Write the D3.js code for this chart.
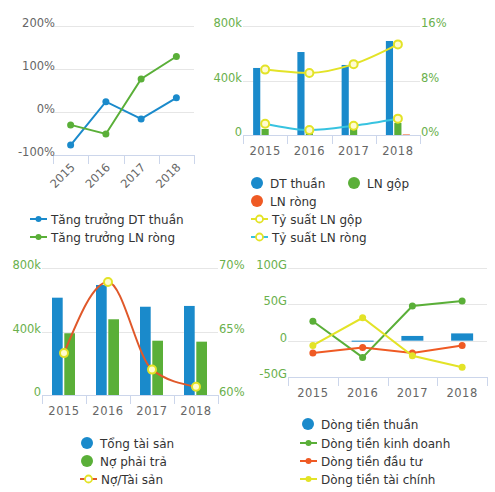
<!DOCTYPE html>
<html><head><meta charset="utf-8">
<script src="https://cdn.jsdelivr.net/npm/d3@7"></script>
<style>
html,body{margin:0;padding:0;background:#fff;}
svg{display:block;font-family:"DejaVu Sans",Verdana,sans-serif;}
</style></head>
<body><svg id="c" width="495" height="492"></svg>
<script>
// ---------- DATA ----------
const years = ["2015","2016","2017","2018"];
// Chart 1: growth (%)
const growthDT = [-77, 24, -16, 33];
const growthLN = [-30, -51, 77, 129];
const growthTicks = [-100, 0, 100, 200];
// Chart 2: revenue / profit (k) and margins (%)
const dtThuan = [492, 609, 514, 690];
const lnGop = [44, 22, 51, 88];
const lnRong = [0, 0, 0, 4];
const tsLNGop = [9.6, 9.1, 10.4, 13.3];
const tsLNRong = [1.66, 0.73, 1.37, 2.4];
const c2LeftTicks = [0, 400, 800];
const c2RightTicks = [0, 8, 16];
// Chart 3: assets / liabilities (k) and ratio (%)
const tongTaiSan = [613, 693, 556, 561];
const noPhaiTra = [389, 477, 342, 336];
const noTaiSan = [63.3, 68.9, 62.0, 60.65];
const c3LeftTicks = [0, 400, 800];
const c3RightTicks = [60, 65, 70];
// Chart 4: cash flows (G)
const dongTienThuan = [0, -1, 6.5, 10];
const dtKinhDoanh = [26.8, -23, 47.6, 54.6];
const dtDauTu = [-17, -9.3, -17, -6.5];
const dtTaiChinh = [-6.5, 31.5, -20.8, -36.6];
const c4Ticks = [-50, 0, 50, 100];

// ---------- STYLE ----------
const BLUE="#1a8acb", GREEN="#5aaf38", ORANGE="#ef5a24", YELLOW="#e3e327", CYAN="#37c3e0";
const GRID="#e6e6e6", AXIS="#ccd6eb", LBL="#666", LGRN="#6ab04c", TXT="#333";
const svg = d3.select("#c");

function grid(g, y, ticks, x0, x1){
  g.selectAll(null).data(ticks).join("line")
   .attr("x1",x0).attr("x2",x1).attr("y1",d=>Math.round(y(d))+0.5).attr("y2",d=>Math.round(y(d))+0.5)
   .attr("stroke",GRID).attr("stroke-width",1);
}
function xAxisBand(g, x, yPos, rotate){
  g.append("line").attr("x1",x.range()[0]).attr("x2",x.range()[1])
   .attr("y1",yPos+0.5).attr("y2",yPos+0.5).attr("stroke",AXIS);
  const bounds = x.domain().map(d=>x(d)).concat([x.range()[1]]);
  g.selectAll(null).data(bounds).join("line")
   .attr("x1",d=>Math.round(d)+0.5).attr("x2",d=>Math.round(d)+0.5)
   .attr("y1",yPos).attr("y2",yPos+9).attr("stroke",AXIS);
  if(rotate){
    g.selectAll(null).data(x.domain()).join("text")
     .attr("transform",d=>`translate(${x(d)+x.bandwidth()/2+5},${yPos+13}) rotate(-45)`)
     .attr("text-anchor","end").attr("fill",LBL).attr("font-size",11.5).text(d=>d);
  } else {
    g.selectAll(null).data(x.domain()).join("text")
     .attr("x",d=>x(d)+x.bandwidth()/2).attr("y",yPos+20)
     .attr("text-anchor","middle").attr("fill",LBL).attr("font-size",11.5)
     .attr("letter-spacing",0.5).text(d=>d);
  }
}
function yLabels(g, y, ticks, xPos, anchor, color, fmt){
  g.selectAll(null).data(ticks).join("text")
   .attr("x",xPos).attr("y",d=>y(d)+1).attr("text-anchor",anchor)
   .attr("fill",color).attr("font-size",11.5).text(fmt);
}
function legendCircle(g, x, y, color, label){
  g.append("circle").attr("cx",x).attr("cy",y).attr("r",6).attr("fill",color);
  g.append("text").attr("x",x+13).attr("y",y+4.5).attr("fill",TXT).attr("font-size",12).text(label);
}
function legendLine(g, x, y, color, label, hollow, mcolor){
  g.append("line").attr("x1",x).attr("x2",x+17).attr("y1",y).attr("y2",y).attr("stroke",color).attr("stroke-width",2);
  if(hollow) g.append("circle").attr("cx",x+8.5).attr("cy",y).attr("r",3.5).attr("fill","#fff").attr("stroke",mcolor).attr("stroke-width",1.8);
  else g.append("circle").attr("cx",x+8.5).attr("cy",y).attr("r",3).attr("fill",color);
  g.append("text").attr("x",x+21).attr("y",y+4.5).attr("fill",TXT).attr("font-size",12).text(label);
}
function lineSeries(g, x, y, vals, color, opts={}){
  const pts = vals.map((v,i)=>[x(years[i])+x.bandwidth()/2, y(v)]);
  g.append("path").attr("d",d3.line().curve(opts.curve||d3.curveLinear)(pts))
   .attr("fill","none").attr("stroke",color).attr("stroke-width",2);
  g.selectAll(null).data(pts).join("circle").attr("cx",d=>d[0]).attr("cy",d=>d[1])
   .attr("r",opts.hollow?4:3.5)
   .attr("fill",opts.hollow?"#fffbd0":color)
   .attr("stroke",opts.hollow?opts.mcolor:"none").attr("stroke-width",opts.hollow?2:0);
}

// ---------- CHART 1 ----------
{
  const g = svg.append("g");
  const x = d3.scaleBand().domain(years).range([53,194]);
  const y = d3.scaleLinear().domain([-100,200]).range([155,26]);
  grid(g,y,growthTicks.filter(d=>d!==-100),53,194);
  xAxisBand(g,x,155,true);
  yLabels(g,y,growthTicks,55,"end",LBL,d=>d+"%");
  lineSeries(g,x,y,growthDT,BLUE);
  lineSeries(g,x,y,growthLN,GREEN);
  legendLine(g,30,219,BLUE,"Tăng trưởng DT thuần");
  legendLine(g,30,237,GREEN,"Tăng trưởng LN ròng");
}
// ---------- CHART 2 ----------
{
  const g = svg.append("g");
  const x = d3.scaleBand().domain(years).range([243,420]);
  const y = d3.scaleLinear().domain([0,800]).range([135,26]);
  const y2 = d3.scaleLinear().domain([0,16]).range([135,26]);
  grid(g,y,c2LeftTicks.filter(d=>d!==0),243,420);
  xAxisBand(g,x,135,false);
  yLabels(g,y,c2LeftTicks,242,"end",LGRN,d=>d===0?"0":d+"k");
  yLabels(g,y2,c2RightTicks,421,"start",LGRN,d=>d+"%");
  const series = [["dt",dtThuan,BLUE],["gop",lnGop,GREEN],["rong",lnRong,ORANGE]];
  const x1 = d3.scaleBand().domain(series.map(s=>s[0])).range([0,24]).paddingInner(0.15);
  series.forEach(([k,vals,col])=>{
    g.selectAll(null).data(vals).join("rect")
     .attr("x",(d,i)=>x(years[i])+x.bandwidth()/2-12+x1(k)).attr("width",x1.bandwidth())
     .attr("y",d=>y(Math.max(0,d))).attr("height",d=>Math.abs(y(d)-y(0)))
     .attr("fill",col);
  });
  lineSeries(g,x,y2,tsLNGop,YELLOW,{hollow:true,mcolor:YELLOW,curve:d3.curveMonotoneX});
  lineSeries(g,x,y2,tsLNRong,CYAN,{hollow:true,mcolor:YELLOW,curve:d3.curveMonotoneX});
  legendCircle(g,257,183,BLUE,"DT thuần");
  legendCircle(g,354,183,GREEN,"LN gộp");
  legendCircle(g,257,201,ORANGE,"LN ròng");
  legendLine(g,251,219,YELLOW,"Tỷ suất LN gộp",true,YELLOW);
  legendLine(g,251,237,CYAN,"Tỷ suất LN ròng",true,YELLOW);
}
// ---------- CHART 3 ----------
{
  const g = svg.append("g");
  const x = d3.scaleBand().domain(years).range([42,218]);
  const y = d3.scaleLinear().domain([0,800]).range([395,268]);
  const y2 = d3.scaleLinear().domain([60,70]).range([395,268]);
  grid(g,y,c3LeftTicks.filter(d=>d!==0),42,218);
  xAxisBand(g,x,395,false);
  yLabels(g,y,c3LeftTicks,41,"end",LGRN,d=>d===0?"0":d+"k");
  yLabels(g,y2,c3RightTicks,219,"start",LGRN,d=>d+"%");
  const series = [["ts",tongTaiSan,BLUE],["no",noPhaiTra,GREEN]];
  const x1 = d3.scaleBand().domain(series.map(s=>s[0])).range([0,23]).paddingInner(0.13);
  series.forEach(([k,vals,col])=>{
    g.selectAll(null).data(vals).join("rect")
     .attr("x",(d,i)=>x(years[i])+x.bandwidth()/2-12+x1(k)).attr("width",x1.bandwidth())
     .attr("y",d=>y(d)).attr("height",d=>y(0)-y(d)).attr("fill",col);
  });
  lineSeries(g,x,y2,noTaiSan,"#e0582a",{hollow:true,mcolor:YELLOW,curve:d3.curveMonotoneX});
  legendCircle(g,87,443,BLUE,"Tổng tài sản");
  legendCircle(g,87,461,GREEN,"Nợ phải trả");
  legendLine(g,80,479,"#e0582a","Nợ/Tài sản",true,YELLOW);
}
// ---------- CHART 4 ----------
{
  const g = svg.append("g");
  const x = d3.scaleBand().domain(years).range([288,487]);
  const y = d3.scaleLinear().domain([-50,100]).range([377,268]);
  grid(g,y,c4Ticks.filter(d=>d!==-50),288,487);
  xAxisBand(g,x,377,false);
  yLabels(g,y,c4Ticks,287,"end",LGRN,d=>d===0?"0":d+"G");
  g.selectAll(null).data(dongTienThuan).join("rect")
   .attr("x",(d,i)=>x(years[i])+x.bandwidth()/2-11).attr("width",22)
   .attr("y",d=>y(Math.max(0,d))).attr("height",d=>Math.max(d===0?0:1,Math.abs(y(d)-y(0))))
   .attr("fill",BLUE);
  lineSeries(g,x,y,dtKinhDoanh,GREEN);
  lineSeries(g,x,y,dtDauTu,ORANGE);
  lineSeries(g,x,y,dtTaiChinh,YELLOW);
  legendCircle(g,308,424,BLUE,"Dòng tiền thuần");
  legendLine(g,300,443,GREEN,"Dòng tiền kinh doanh");
  legendLine(g,300,461,ORANGE,"Dòng tiền đầu tư");
  legendLine(g,300,479,YELLOW,"Dòng tiền tài chính");
}
</script></body></html>
